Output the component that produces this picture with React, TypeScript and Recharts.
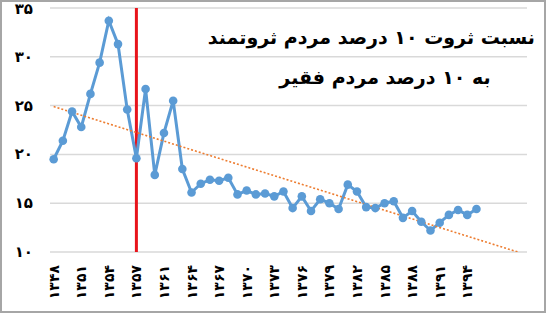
import { LineChart, Line, XAxis, YAxis, CartesianGrid, ReferenceLine } from 'recharts';

// years (Persian calendar); 1358 has no value in the source
const years = [
  '۱۳۴۸', '۱۳۴۹', '۱۳۵۰', '۱۳۵۱', '۱۳۵۲', '۱۳۵۳', '۱۳۵۴', '۱۳۵۵', '۱۳۵۶', '۱۳۵۷',
  '۱۳۵۹', '۱۳۶۰', '۱۳۶۱', '۱۳۶۲', '۱۳۶۳', '۱۳۶۴', '۱۳۶۵', '۱۳۶۶', '۱۳۶۷', '۱۳۶۸',
  '۱۳۶۹', '۱۳۷۰', '۱۳۷۱', '۱۳۷۲', '۱۳۷۳', '۱۳۷۴', '۱۳۷۵', '۱۳۷۶', '۱۳۷۷', '۱۳۷۸',
  '۱۳۷۹', '۱۳۸۰', '۱۳۸۱', '۱۳۸۲', '۱۳۸۳', '۱۳۸۴', '۱۳۸۵', '۱۳۸۶', '۱۳۸۷', '۱۳۸۸',
  '۱۳۸۹', '۱۳۹۰', '۱۳۹۱', '۱۳۹۲', '۱۳۹۳', '۱۳۹۴', '۱۳۹۵',
];

const ratio = [
  19.5, 21.4, 24.4, 22.8, 26.2, 29.4, 33.7, 31.3, 24.6, 19.6,
  26.7, 17.9, 22.2, 25.5, 18.5, 16.1, 17.0, 17.4, 17.3, 17.6,
  15.9, 16.3, 15.9, 16.0, 15.7, 16.2, 14.5, 15.7, 14.2, 15.4,
  15.0, 14.4, 16.9, 16.2, 14.6, 14.5, 15.0, 15.2, 13.5, 14.2,
  13.1, 12.2, 13.0, 13.8, 14.3, 13.8, 14.4,
];

const labelledYears = [
  '۱۳۴۸', '۱۳۵۱', '۱۳۵۴', '۱۳۵۷', '۱۳۶۱', '۱۳۶۴', '۱۳۶۷', '۱۳۷۰',
  '۱۳۷۳', '۱۳۷۶', '۱۳۷۹', '۱۳۸۲', '۱۳۸۵', '۱۳۸۸', '۱۳۹۱', '۱۳۹۴',
];

const yTicks = [10, 15, 20, 25, 30, 35];
const yTickLabels = ['۱۰', '۱۵', '۲۰', '۲۵', '۳۰', '۳۵'];

const revolutionYear = '۱۳۵۷';

// linear trend, forecast past the last year
const trendStart = 24.9;
const trendEnd = 10;
const trendEndIndex = 50.5;

const titleLines = ['نسبت ثروت ۱۰ درصد مردم ثروتمند', 'به ۱۰ درصد مردم فقیر'];

const data = years.map((year, i) => ({ idx: i, year, value: ratio[i] }));
const xTicks = labelledYears.map(y => years.indexOf(y));

const FONT = '"DejaVu Sans", sans-serif';

function YearTick({ x, y, payload }: any) {
  const label = years[payload.value] ?? '';
  return (
    <text
      x={x}
      y={y}
      transform={`rotate(-90, ${x}, ${y})`}
      textAnchor="end"
      dominantBaseline="central"
      fontFamily={FONT}
      fontWeight="bold"
      fontSize={14}
      fill="#000"
    >
      {label}
    </text>
  );
}

function ValueTick({ x, y, payload }: any) {
  const label = yTickLabels[yTicks.indexOf(payload.value)] ?? '';
  return (
    <text x={x} y={y} textAnchor="end" dominantBaseline="central" fontFamily={FONT} fontWeight="bold" fontSize={15} fill="#000">
      {label}
    </text>
  );
}

export default function App() {
  return (
    <div style={{ position: 'absolute', left: 0, top: 0, width: 546, height: 313, background: '#fff' }}>
      <LineChart width={546} height={313} data={data} margin={{ top: 8, right: 19, bottom: 0, left: 0 }}>
        <CartesianGrid horizontal vertical={false} stroke="#d9d9d9" strokeWidth={1.5} />
        <XAxis
          type="number"
          dataKey="idx"
          domain={[-0.4, 51.5]}
          ticks={xTicks}
          interval={0}
          height={61}
          axisLine={false}
          tickLine={false}
          tickSize={0}
          tickMargin={13}
          tick={<YearTick />}
        />
        <YAxis
          domain={[10, 35]}
          ticks={yTicks}
          width={50}
          axisLine={false}
          tickLine={false}
          tickSize={0}
          tickMargin={17}
          tick={<ValueTick />}
        />
        <ReferenceLine x={years.indexOf(revolutionYear)} stroke="#e8141b" strokeWidth={3} />
        <Line
          dataKey="value"
          stroke="#5b9bd5"
          strokeWidth={3}
          dot={{ r: 4.3, fill: '#5b9bd5', stroke: '#5b9bd5', strokeWidth: 0 }}
          isAnimationActive={false}
        />
        <ReferenceLine
          segment={[{ x: 0, y: trendStart }, { x: trendEndIndex, y: trendEnd }]}
          stroke="#ed7d31"
          strokeWidth={1.6}
          strokeDasharray="2 2"
          ifOverflow="hidden"
        />
      </LineChart>
      <div
        style={{
          position: 'absolute',
          left: 235,
          top: 17,
          width: 300,
          textAlign: 'center',
          direction: 'rtl',
          whiteSpace: 'nowrap',
          fontFamily: FONT,
          fontWeight: 'bold',
          fontSize: 19,
          lineHeight: '40px',
          color: '#000',
        }}
      >
        <div>{titleLines[0]}</div>
        <div>{titleLines[1]}</div>
      </div>
      <div
        style={{
          position: 'absolute',
          left: 0,
          top: 0,
          width: 546,
          height: 313,
          boxSizing: 'border-box',
          border: '2px solid #a6a6a6',
          pointerEvents: 'none',
        }}
      />
    </div>
  );
}
